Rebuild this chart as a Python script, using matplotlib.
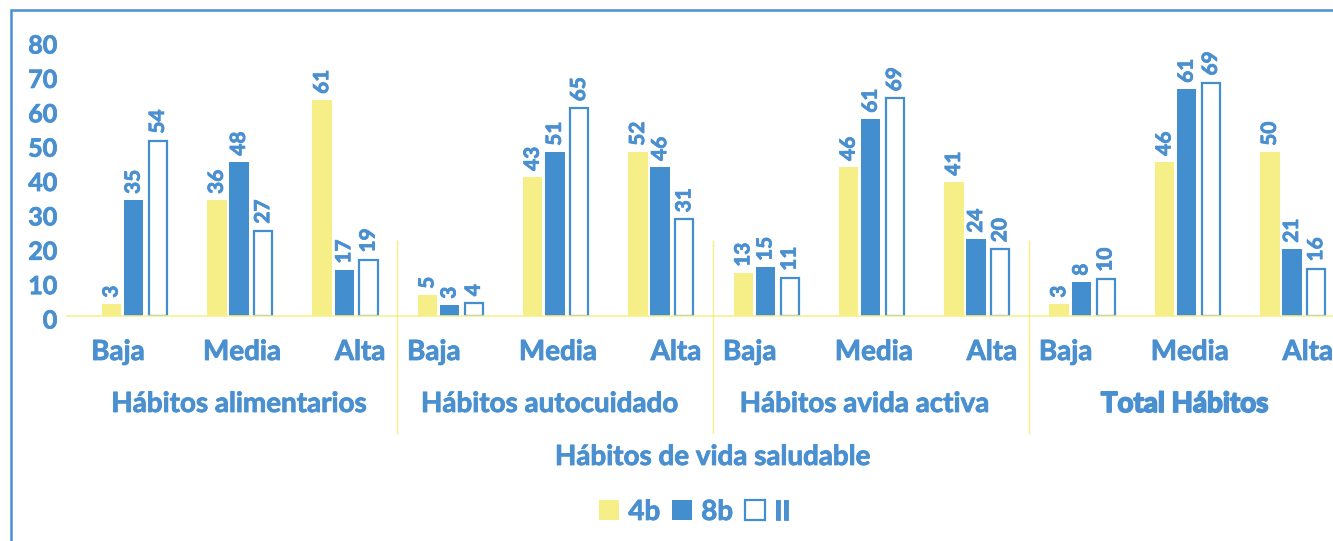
import matplotlib
matplotlib.use("Agg")
import matplotlib.pyplot as plt
import matplotlib.patches as mpatches
import matplotlib.transforms as mtransforms
import matplotlib.patheffects as pe

plt.rcParams['font.family'] = ['Lato', 'DejaVu Sans']
plt.rcParams['font.weight'] = 'bold'

# ---------------- data ----------------
groups = ["Hábitos alimentarios", "Hábitos autocuidado", "Hábitos avida activa", "Total Hábitos"]
levels = ["Baja", "Media", "Alta"]
series = ["4b", "8b", "II"]

# bar heights as drawn in the chart
bars_4b = [3.5, 33.7, 62.8, 6.1, 40.4, 47.7, 12.5, 43.3, 39.0, 3.5, 44.8, 47.7]
bars_8b = [33.7, 44.8, 13.4, 3.2, 47.7, 43.3, 14.2, 57.3, 22.4, 9.9, 66.0, 19.5]
bars_II = [51.0, 24.8, 16.4, 3.7, 60.4, 28.1, 11.1, 63.3, 19.4, 10.8, 67.9, 13.8]

# data labels printed above the bars
labels_4b = [3, 36, 61, 5, 43, 52, 13, 46, 41, 3, 46, 50]
labels_8b = [35, 48, 17, 3, 51, 46, 15, 61, 24, 8, 61, 21]
labels_II = [54, 27, 19, 4, 65, 31, 11, 69, 20, 10, 69, 16]

yticks = [0, 10, 20, 30, 40, 50, 60, 70, 80]
x_title = "Hábitos de vida saludable"

# ---------------- style ----------------
YELLOW = "#F6EF87"
BLUE = "#438ECE"
TEXT = "#4A90D0"
THICK = [pe.withStroke(linewidth=0.6, foreground=TEXT)]
THICKER = [pe.withStroke(linewidth=1.3, foreground=TEXT)]

W, H, DPI = 1333, 541, 100
fig = plt.figure(figsize=(W / DPI, H / DPI), dpi=DPI)

def fx(px):
    return px / W

def fy(py):
    return 1 - py / H

ax_left, ax_right, ax_top, ax_bottom = 67, 1333, 41, 316
ax = fig.add_axes([fx(ax_left), fy(ax_bottom), fx(ax_right - ax_left), (ax_bottom - ax_top) / H])
ax.patch.set_alpha(0)

unit = 105.3
x0 = 81
ax.set_xlim((ax_left - x0) / unit, (ax_right - x0) / unit)
ax.set_ylim(0, 80)

n = len(groups) * len(levels)
centers = [i + 0.5 for i in range(n)]

bw = 0.185
off = [-0.21, 0.0, 0.23]
b1 = ax.bar([c + off[0] for c in centers], bars_4b, width=bw, color=YELLOW, linewidth=0, label=series[0])
b2 = ax.bar([c + off[1] for c in centers], bars_8b, width=bw, color=BLUE, linewidth=0, label=series[1])
b3 = ax.bar([c + off[2] for c in centers], bars_II, width=0.172, facecolor="white",
            edgecolor=BLUE, linewidth=1.6, label=series[2])

for k, (bars, labs) in enumerate(((b1, labels_4b), (b2, labels_8b), (b3, labels_II))):
    extra = 0.6 if k == 2 else 0
    for rect, lab in zip(bars, labs):
        ax.annotate(str(lab), (rect.get_x() + rect.get_width() / 2, rect.get_height()),
                    xytext=(0, 4.5 + extra), textcoords="offset points",
                    rotation=90, ha="center", va="bottom", fontsize=15,
                    fontweight="bold", color=TEXT, annotation_clip=False,
                    path_effects=THICK)

# axes styling
for s in ("top", "right", "left"):
    ax.spines[s].set_visible(False)
ax.spines["bottom"].set_color(YELLOW)
ax.spines["bottom"].set_linewidth(1.1)
ax.set_xticks([])
ax.set_yticks(yticks)
ax.set_yticklabels([str(v) for v in yticks])
ax.tick_params(axis="y", length=0, pad=7, labelsize=18, labelcolor=TEXT)
for lbl in ax.get_yticklabels():
    lbl.set_fontweight("bold")
    lbl.set_path_effects(THICK)
    lbl.set_transform(lbl.get_transform() + mtransforms.ScaledTranslation(0, -3 / DPI, fig.dpi_scale_trans))

# category labels
blend = mtransforms.blended_transform_factory(ax.transData, fig.transFigure)
lvl_off = [-0.15, 0.03, 0.15]
grp_off = [0.0, -0.05, -0.06, -0.02]
for g in range(len(groups)):
    for j, lv in enumerate(levels):
        ax.text(g * 3 + j + 0.5 + lvl_off[j], fy(360), lv, transform=blend,
                ha="center", va="baseline", fontsize=20, fontweight="bold", color=TEXT,
                path_effects=THICK)
    ax.text(g * 3 + 1.5 + grp_off[g], fy(412), groups[g], transform=blend, ha="center",
            va="baseline", fontsize=20, fontweight="bold", color=TEXT,
            path_effects=THICK if g < 3 else THICKER)

# group separators
for g in range(1, len(groups)):
    ax.plot([g * 3, g * 3], [fy(241), fy(433)], transform=blend, color=YELLOW,
            linewidth=1.0, clip_on=False)

# axis title
ax.text(6.0, fy(465), x_title, transform=blend, ha="center", va="baseline",
        fontsize=20, fontweight="bold", color=TEXT, path_effects=THICK)

# legend
handles = [mpatches.Patch(facecolor=YELLOW, edgecolor="none"),
           mpatches.Patch(facecolor=BLUE, edgecolor="none"),
           mpatches.Patch(facecolor="white", edgecolor=BLUE, linewidth=1.6)]
leg = fig.legend(handles, series, loc="center", bbox_to_anchor=(fx(695), fy(512)),
                 ncol=3, frameon=False, fontsize=20, handlelength=0.72, handleheight=0.72,
                 handletextpad=0.32, columnspacing=0.43, borderpad=0, borderaxespad=0)
for t in leg.get_texts():
    t.set_color(TEXT)
    t.set_fontweight("bold")
    t.set_path_effects(THICK)

# outer frame
frame = mpatches.Rectangle((fx(10.7), -0.2), 1.2, fy(10.3) + 0.2, transform=fig.transFigure,
                           fill=False, edgecolor="#4A90D6", linewidth=1.8, clip_on=False)
fig.patches.append(frame)

fig.savefig("out.png", dpi=DPI)
